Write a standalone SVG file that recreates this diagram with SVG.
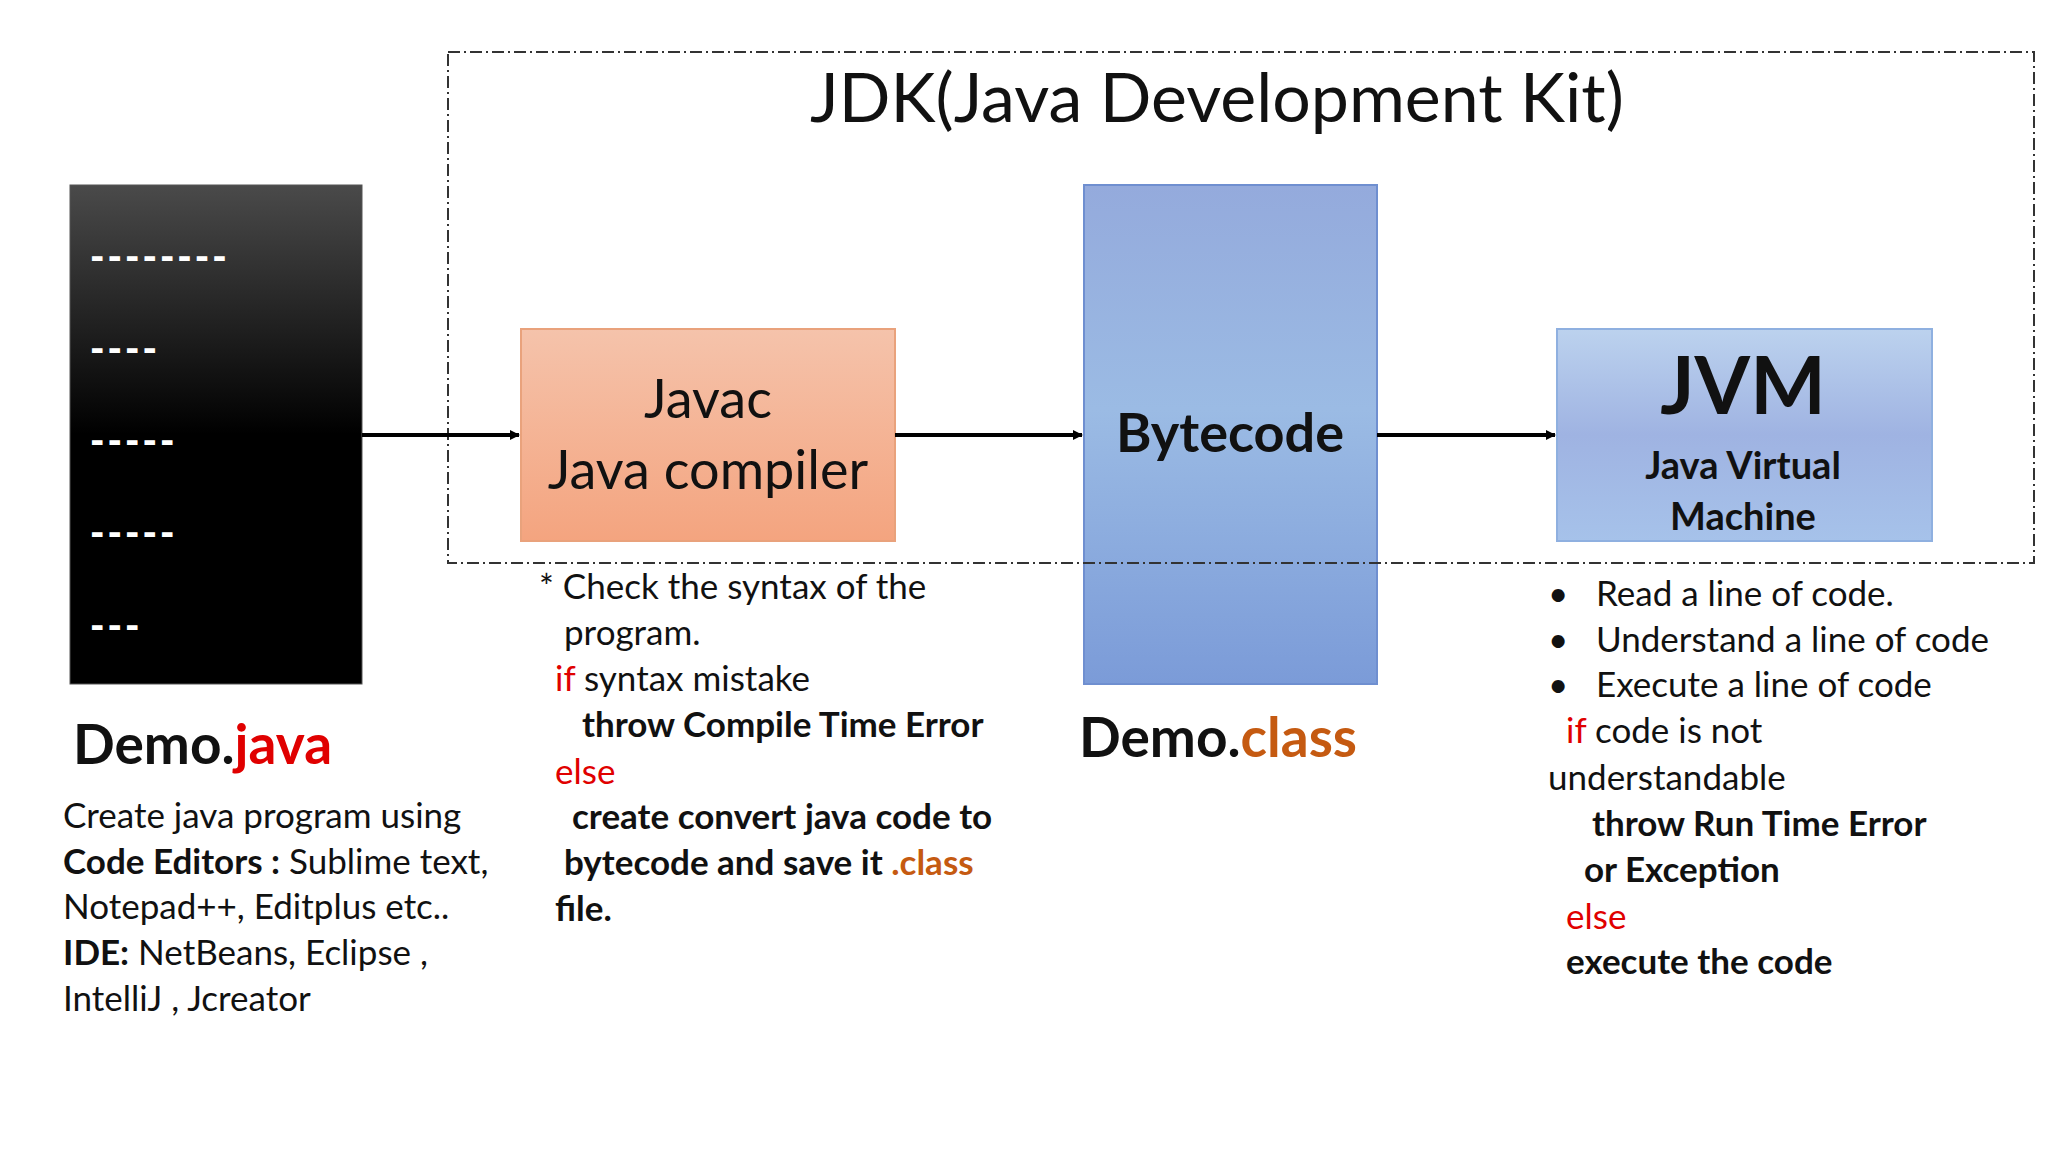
<svg xmlns="http://www.w3.org/2000/svg" width="2048" height="1152" viewBox="0 0 2048 1152">
<style>
text{font-family:Lato,"Open Sans",sans-serif;fill:#111}
.b{font-weight:bold}
.p{font-size:35px}
.r{fill:#e00000}
.o{fill:#c55a11}
.d{fill:#fff;font-family:"DejaVu Sans Mono",monospace;font-size:34px;font-weight:bold;letter-spacing:-3px}
</style>
<defs>
<linearGradient id="gk" x1="0" y1="0" x2="0" y2="1"><stop offset="0" stop-color="#4a4a4a"/><stop offset="0.5" stop-color="#000"/><stop offset="1" stop-color="#000"/></linearGradient>
<linearGradient id="go" x1="0" y1="0" x2="0" y2="1"><stop offset="0" stop-color="#f5c3ab"/><stop offset="1" stop-color="#f4a47f"/></linearGradient>
<linearGradient id="gb" x1="0" y1="0" x2="0" y2="1"><stop offset="0" stop-color="#94aadc"/><stop offset="0.45" stop-color="#9bbbe4"/><stop offset="1" stop-color="#7b9bd8"/></linearGradient>
<linearGradient id="gj" x1="0" y1="0" x2="0" y2="1"><stop offset="0" stop-color="#bcd2ee"/><stop offset="0.5" stop-color="#9fb3e2"/><stop offset="1" stop-color="#a6c2ea"/></linearGradient>
<marker id="ar" markerWidth="10" markerHeight="10" refX="9" refY="5" orient="auto" markerUnits="userSpaceOnUse"><path d="M0,0 L10,5 L0,10 z" fill="#000"/></marker>
</defs>
<rect width="2048" height="1152" fill="#fff"/>
<g id="source">
<rect x="70" y="185" width="292" height="499" fill="url(#gk)" stroke="#555"/>
<text class="d" x="87" y="268">--------</text>
<text class="d" x="87" y="360">----</text>
<text class="d" x="87" y="452">-----</text>
<text class="d" x="87" y="544">-----</text>
<text class="d" x="87" y="637">---</text>
<text x="73" y="764" font-size="55" class="b">Demo.<tspan class="r">java</tspan></text>
<text class="p" x="63" y="828">Create java program using</text>
<text class="p" x="63" y="874"><tspan class="b">Code Editors :</tspan> Sublime text,</text>
<text class="p" x="63" y="919">Notepad++, Editplus etc..</text>
<text class="p" x="63" y="965"><tspan class="b">IDE:</tspan> NetBeans, Eclipse ,</text>
<text class="p" x="63" y="1011">IntelliJ , Jcreator</text>
</g>
<g id="javac">
<rect x="521" y="329" width="374" height="212" fill="url(#go)" stroke="#e9a27c" stroke-width="2"/>
<text x="708" y="418" font-size="54" text-anchor="middle">Javac</text>
<text x="708" y="489" font-size="54" text-anchor="middle">Java compiler</text>
<text class="p" x="539" y="599">* Check the syntax of the</text>
<text class="p" x="564" y="645">program.</text>
<text class="p" x="555" y="691"><tspan class="r">if</tspan> syntax mistake</text>
<text class="p b" x="582" y="737">throw Compile Time Error</text>
<text class="p r" x="555" y="784">else</text>
<text class="p b" x="572" y="829">create convert java code to</text>
<text class="p b" x="564" y="875">bytecode and save it <tspan class="o">.class</tspan></text>
<text class="p b" x="555" y="921">file.</text>
</g>
<g id="bytecode">
<rect x="1084" y="185" width="293" height="499" fill="url(#gb)" stroke="#6f8fd0" stroke-width="2"/>
<text x="1230" y="452" font-size="54" class="b" text-anchor="middle">Bytecode</text>
<text x="1079" y="757" font-size="55" class="b">Demo.<tspan class="o">class</tspan></text>
</g>
<g id="jvm">
<rect x="1557" y="329" width="375" height="212" fill="url(#gj)" stroke="#8fb0e0" stroke-width="2"/>
<text x="1743" y="414" font-size="80" class="b" text-anchor="middle">JVM</text>
<text x="1743" y="479" font-size="38" class="b" text-anchor="middle">Java Virtual</text>
<text x="1743" y="530" font-size="38" class="b" text-anchor="middle">Machine</text>
<text class="p" x="1548" y="606">•</text><text class="p" x="1596" y="606">Read a line of code.</text>
<text class="p" x="1548" y="652">•</text><text class="p" x="1596" y="652">Understand a line of code</text>
<text class="p" x="1548" y="697">•</text><text class="p" x="1596" y="697">Execute a line of code</text>
<text class="p" x="1566" y="743"><tspan class="r">if</tspan> code is not</text>
<text class="p" x="1548" y="790">understandable</text>
<text class="p b" x="1592" y="836">throw Run Time Error</text>
<text class="p b" x="1584" y="882">or Exception</text>
<text class="p r" x="1566" y="929">else</text>
<text class="p b" x="1566" y="974">execute the code</text>
</g>
<g id="jdk">
<rect x="448" y="52" width="1586" height="511" fill="none" stroke="#333" stroke-width="2" stroke-dasharray="12,4,2,4"/>
<text x="1217" y="122" font-size="68" text-anchor="middle">JDK(Java Development Kit)</text>
</g>
<g id="connectors" stroke="#000" stroke-width="4" fill="none">
<line x1="362" y1="435" x2="519" y2="435" marker-end="url(#ar)"/>
<line x1="895" y1="435" x2="1082" y2="435" marker-end="url(#ar)"/>
<line x1="1377" y1="435" x2="1555" y2="435" marker-end="url(#ar)"/>
</g>
</svg>
